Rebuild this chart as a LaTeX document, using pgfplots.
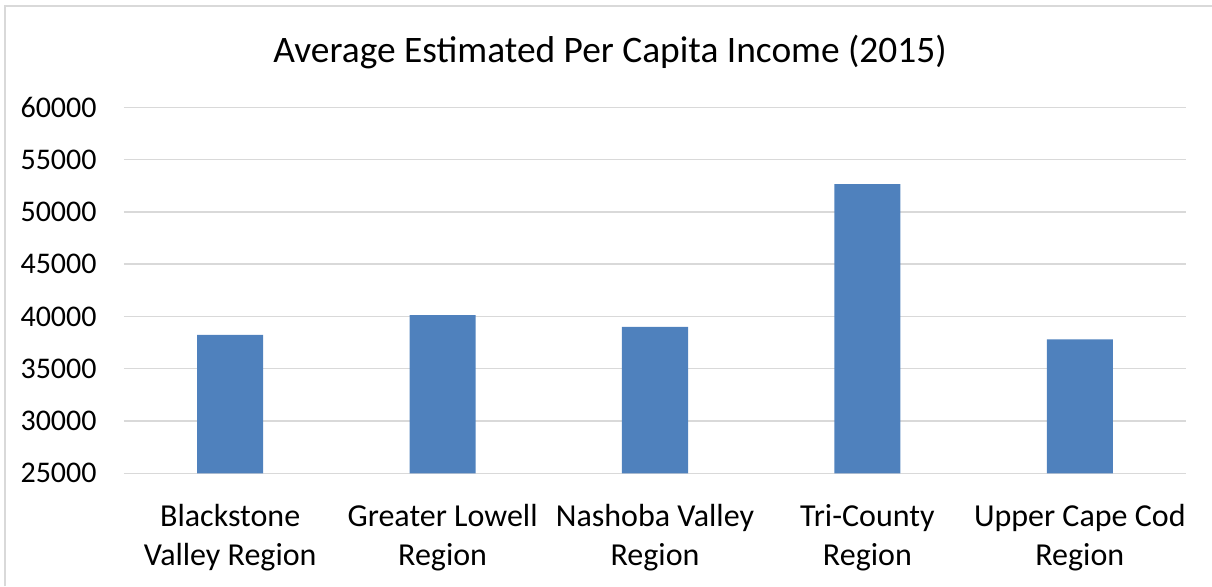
\documentclass[border=0pt]{standalone}
\usepackage{pgfplots}
\pgfplotsset{compat=1.18}
\usepackage{fontspec}
\setmainfont{Carlito}
\definecolor{barblue}{HTML}{4F81BD}
\definecolor{gridgray}{HTML}{D9D9D9}
\begin{document}
\begin{tikzpicture}
\useasboundingbox (-62pt,-56.35pt) rectangle (544pt,236.65pt);
\begin{axis}[
  at={(0,0)}, anchor=south west,
  scale only axis, width=531pt, height=183pt,
  xmin=-0.5, xmax=4.5, ymin=25000, ymax=60000,
  ytick={25000,30000,35000,40000,45000,50000,55000,60000},
  scaled y ticks=false,
  xtick={0,1,2,3,4},
  xticklabels={{Blackstone\\Valley Region},{Greater Lowell\\Region},{Nashoba Valley\\Region},{Tri-County\\Region},{Upper Cape Cod\\Region}},
  axis line style={draw=none},
  major tick length=0pt,
  ymajorgrids, grid style={gridgray, line width=0.7pt},
  /pgf/number format/assume math mode=true,
  /pgf/number format/1000 sep={},
  yticklabel style={anchor=east, inner sep=0pt, xshift=-13.5pt, font=\fontsize{15pt}{18pt}\selectfont},
  xticklabel style={anchor=north, inner sep=0pt, align=center, yshift=-15.5pt, font=\fontsize{16pt}{19.2pt}\selectfont},
  ybar, bar width=33pt,
]
\addplot[fill=barblue, draw=none] coordinates {(0,38250) (1,40130) (2,39000) (3,52660) (4,37820)};
\end{axis}
\draw[gridgray, line width=0.9pt] (-59.5pt,-56.35pt) -- (-59.5pt,233.5pt) -- (544pt,233.5pt);
\node[anchor=base, inner sep=0pt, font=\fontsize{18.7pt}{22pt}\selectfont] at (243pt,205.35pt) {Average Estimated Per Capita Income (2015)};
\end{tikzpicture}
\end{document}
